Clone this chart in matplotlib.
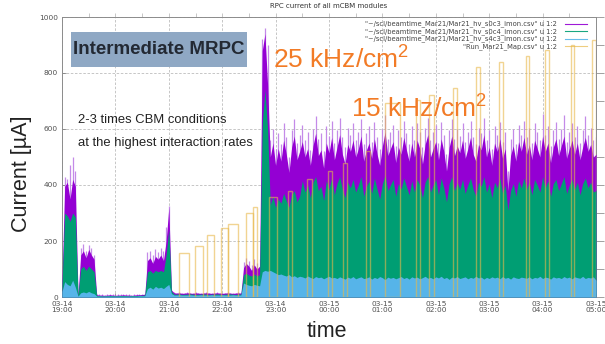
import numpy as np
import matplotlib
matplotlib.use("Agg")
import matplotlib.pyplot as plt
from matplotlib.patches import Rectangle
from matplotlib.lines import Line2D

W, H, DPI = 605, 344, 100

plt.rcParams["mathtext.fontset"] = "custom"
plt.rcParams["mathtext.rm"] = "Liberation Sans"

# ---------------------------------------------------------------------------
# HV monitor currents [uA], one sample every 3 minutes from 03-14 19:00
# ---------------------------------------------------------------------------
step_min = 3

s0c3_imon = [
    60,
    395, 410, 350, 420, 395,
    8,
    150, 165, 140, 170, 150, 135,
    8, 7, 7, 6, 7, 8, 7, 6, 7, 7, 8, 7, 7, 6, 7, 8, 8, 9, 10,
    130, 140, 120, 145, 135, 150, 130, 200, 320,
    25,
    15, 14, 15, 13, 14, 15, 14, 13, 15, 14, 13, 14, 15, 14, 13, 14, 15, 14, 13, 14, 15, 14, 13, 14, 15, 14,
    105, 120, 110, 95, 115, 100, 110,
    880, 940, 760,
    500, 550, 470, 530, 485, 560, 510, 445, 535, 575, 490, 520,
    555, 500, 530, 470, 540, 585, 505, 525, 460, 550, 515, 570,
    490, 535, 580, 510, 475, 545, 520, 560, 500, 530, 575, 485,
    525, 550, 495, 565, 510, 470, 540, 590, 505, 530, 555, 480,
    535, 510, 570, 525, 485, 550, 500, 560, 530, 475, 545, 580,
    500, 530, 555, 490, 565, 520, 450, 535, 575, 505, 540, 515,
    560, 495, 530, 570, 510, 485, 545, 525, 580, 500, 535, 470,
    550, 520, 565, 495, 530, 380, 505, 540, 485, 555, 520, 570,
    510, 545, 490, 560, 530, 500, 575, 520, 550, 480, 535, 565,
    505, 540, 575, 495, 530, 560, 510, 550, 490, 535, 570, 520,
    545, 500, 510,
]

# short excursions of s0c3 within each sampling interval
s0c3_imon_max = [
    70,
    430, 420, 470, 500, 450,
    10,
    175, 190, 165, 185, 175, 150,
    10, 9, 9, 8, 9, 10, 9, 8, 9, 9, 10, 9, 9, 8, 9, 10, 10, 11, 12,
    160, 165, 150, 170, 160, 175, 165, 250, 325,
    30,
    17, 16, 17, 15, 16, 17, 16, 15, 17, 16, 15, 16, 17, 16, 15, 16, 17, 16, 15, 16, 17, 16, 15, 16, 17, 16,
    125, 140, 130, 115, 135, 120, 135,
    920, 960, 900,
    560, 600, 530, 585, 545, 620, 570, 500, 595, 635, 550, 580,
    615, 560, 590, 525, 600, 645, 565, 585, 520, 610, 575, 630,
    550, 595, 640, 570, 535, 605, 580, 620, 560, 590, 635, 545,
    585, 610, 555, 625, 570, 530, 600, 650, 565, 590, 615, 540,
    595, 570, 630, 585, 545, 610, 560, 620, 590, 535, 605, 640,
    560, 590, 615, 550, 625, 580, 510, 595, 635, 565, 600, 575,
    620, 555, 590, 630, 570, 545, 605, 585, 640, 560, 595, 530,
    610, 580, 625, 555, 590, 450, 565, 600, 545, 615, 580, 630,
    570, 605, 550, 620, 590, 560, 655, 580, 610, 540, 595, 625,
    565, 600, 650, 555, 590, 620, 570, 610, 550, 595, 645, 580,
    605, 560, 570,
]

s0c4_imon = [
    40,
    300, 290, 270, 300, 285,
    5,
    100, 110, 95, 110, 100, 90,
    5, 5, 4, 4, 5, 5, 5, 4, 5, 5, 5, 5, 4, 5, 5, 5, 6, 6, 7,
    90, 95, 85, 95, 90, 95, 90, 150, 240,
    20,
    10, 10, 11, 9, 10, 10, 11, 10, 9, 10, 10, 11, 10, 9, 10, 10, 11, 10, 9, 10, 10, 11, 10, 9, 10, 10,
    80, 85, 78, 75, 82, 75, 80,
    620, 740, 600,
    330, 360, 320, 350, 335, 370, 345, 320, 365, 380, 340, 360,
    415, 375, 400, 355, 410, 430, 380, 395, 345, 415, 385, 425,
    365, 405, 430, 385, 355, 410, 390, 420, 375, 400, 430, 360,
    395, 415, 370, 425, 385, 350, 405, 435, 380, 400, 420, 360,
    405, 385, 425, 395, 365, 415, 375, 420, 400, 355, 410, 430,
    375, 400, 420, 365, 425, 390, 340, 405, 430, 380, 410, 385,
    420, 370, 400, 425, 385, 360, 410, 395, 430, 375, 405, 355,
    410, 390, 425, 370, 400, 310, 380, 405, 360, 415, 390, 425,
    385, 410, 365, 420, 400, 375, 430, 390, 415, 360, 405, 420,
    380, 405, 430, 370, 400, 420, 385, 410, 365, 405, 425, 390,
    410, 375, 380,
]

s4c3_imon = [
    20,
    55, 45, 40, 60, 35,
    3,
    15, 18, 15, 20, 15, 12,
    3, 3, 3, 3, 3, 3, 3, 3, 3, 3, 3, 3, 3, 3, 3, 3, 4, 4, 4,
    30, 35, 28, 38, 32, 35, 30, 38, 45,
    12,
    7, 7, 8, 7, 7, 7, 8, 7, 7, 7, 8, 7, 7, 7, 8, 7, 7, 7, 8, 7, 7, 7, 8, 7, 7, 7,
    50, 45, 42, 40, 45, 42, 40,
    90, 95, 92,
    95, 90, 85, 80, 82, 78, 75, 80, 72, 76, 70, 74,
    72, 68, 75, 70, 66, 73, 69, 71, 65, 70, 74, 68,
    70, 66, 72, 68, 64, 71, 67, 73, 65, 69, 72, 66,
    68, 72, 64, 70, 66, 73, 69, 62, 71, 67, 70, 65,
    69, 73, 66, 70, 64, 72, 68, 71, 65, 69, 74, 67,
    70, 65, 72, 68, 74, 66, 70, 63, 71, 68, 73, 66,
    69, 72, 65, 70, 67, 74, 68, 71, 64, 70, 66, 72,
    68, 71, 65, 73, 67, 70, 64, 72, 68, 66, 71, 69,
    67, 72, 65, 70, 68, 74, 66, 71, 69, 64, 72, 68,
    70, 66, 73, 68, 71, 65, 72, 69, 67, 74, 66, 70,
    68, 72, 60,
]

# run map: start / stop [min after 19:00] and run index (drawn on the current scale)
run_start = [131, 149, 163, 179, 187, 207, 215, 233, 254, 275, 299, 316,
             342, 363, 398, 412, 439, 465, 491, 521, 543, 572, 595]
run_stop = [143, 158, 171, 187, 198, 215, 219, 242, 258, 281, 303, 320,
            346, 380, 402, 418, 444, 470, 495, 525, 547, 575, 600]
run_value = [157, 182, 221, 246, 261, 300, 321, 357, 380, 420, 450, 480,
             520, 693, 705, 721, 746, 821, 839, 861, 882, 900, 918]

tick_minutes = [0, 60, 120, 180, 240, 300, 360, 420, 480, 540, 600]
tick_labels = ["03-14\n19:00", "03-14\n20:00", "03-14\n21:00", "03-14\n22:00",
               "03-14\n23:00", "03-15\n00:00", "03-15\n01:00", "03-15\n02:00",
               "03-15\n03:00", "03-15\n04:00", "03-15\n05:00"]

legend_labels = ['"~/scl/beamtime_Mar21/Mar21_hv_s0c3_imon.csv" u 1:2',
                 '"~/scl/beamtime_Mar21/Mar21_hv_s0c4_imon.csv" u 1:2',
                 '"~/scl/beamtime_Mar21/Mar21_hv_s4c3_imon.csv" u 1:2',
                 '"Run_Mar21_Map.csv" u 1:2']

C_PURPLE = "#9400d3"
C_PURPLE_LIGHT = "#c48ae8"
C_GREEN = "#009e73"
C_BLUE = "#56b4e9"
C_RUN = "#e8b84a"

t = np.arange(len(s0c3_imon)) * step_min

fig = plt.figure(figsize=(W / DPI, H / DPI), dpi=DPI)
fig.patch.set_facecolor("white")


def fx(px):
    return px / W


def fy(py):
    return 1 - py / H


ax = fig.add_axes([fx(62), fy(297), (596 - 62) / W, (297 - 17) / H])
ax.set_xlim(0, 600)
ax.set_ylim(0, 1000)

ax.set_axisbelow(True)
ax.grid(True, color="#bdbdbd", lw=0.6, ls=(0, (3, 2)))

ax.vlines(t, 0, s0c3_imon_max, colors=C_PURPLE_LIGHT, lw=0.9, zorder=2)
ax.fill_between(t, 0, s0c3_imon, color=C_PURPLE, lw=0, zorder=3)
ax.fill_between(t, 0, s0c4_imon, color=C_GREEN, lw=0, zorder=4)
ax.fill_between(t, 0, s4c3_imon, color=C_BLUE, lw=0, zorder=5)

widths = [b - a for a, b in zip(run_start, run_stop)]
ax.bar(run_start, run_value, width=widths, align="edge", fill=False,
       edgecolor=C_RUN, lw=1.0, alpha=0.6, zorder=6)

ax.set_xticks(tick_minutes)
ax.set_xticklabels(tick_labels, linespacing=1.05)
ax.set_yticks([0, 200, 400, 600, 800, 1000])
ax.tick_params(direction="in", length=3, width=0.5, colors="#707070",
               labelsize=5.3, labelcolor="#505050", pad=3)
for sp in ax.spines.values():
    sp.set_color("#8c8c8c")
    sp.set_linewidth(0.7)

top = ax.secondary_xaxis("top")
top.set_xticks(list(range(30, 600, 30)))
top.tick_params(direction="out", length=3, width=0.5, colors="#b0b0b0",
                labeltop=False)
top.spines["top"].set_visible(False)

right = ax.secondary_yaxis("right")
right.set_yticks(list(range(0, 1001, 100)))
right.tick_params(direction="out", length=6, width=0.6, colors="#909090",
                  labelright=False)
right.spines["right"].set_visible(False)

fig.text(fx(329), fy(6), "RPC current of all mCBM modules", ha="center",
         va="center", fontsize=5, color="#333333")

legend_colors = [C_PURPLE, C_GREEN, C_BLUE, C_RUN]
for k, (lab, col) in enumerate(zip(legend_labels, legend_colors)):
    yy = 24 + 7.4 * k
    fig.text(fx(557), fy(yy), lab, ha="right", va="center", fontsize=4.9,
             color="#444444")
    fig.add_artist(Line2D([fx(565), fx(587)], [fy(yy), fy(yy)], color=col,
                          lw=0.8, alpha=0.7 if k == 3 else 0.9))

# annotations
fig.add_artist(Rectangle((fx(71), fy(67)), (247 - 71) / W, 35 / H,
                         facecolor="#8fa8c4", edgecolor="none", zorder=10))
fig.text(fx(159), fy(50), "Intermediate MRPC", ha="center", va="center",
         fontsize=13.5, fontweight="bold", family="Liberation Sans",
         color="#232933", zorder=11)

orange = "#f27b26"
fig.text(fx(273), fy(68), r"25 kHz/cm$^{\mathrm{2}}$", ha="left",
         va="baseline", fontsize=19, family="Liberation Sans", color=orange,
         zorder=11)
fig.text(fx(351), fy(117), r"15 kHz/cm$^{\mathrm{2}}$", ha="left",
         va="baseline", fontsize=19, family="Liberation Sans", color=orange,
         zorder=11)

fig.text(fx(78), fy(123), "2-3 times CBM conditions", ha="left",
         va="baseline", fontsize=9.4, family="Liberation Sans", color="#222222",
         zorder=11)
fig.text(fx(78), fy(146), "at the highest interaction rates", ha="left",
         va="baseline", fontsize=9.4, family="Liberation Sans", color="#222222",
         zorder=11)

fig.text(fx(22), fy(174), "Current [µA]", rotation=90, ha="center",
         va="center", fontsize=15.5, family="Liberation Sans", color="#222222")
fig.text(fx(327), fy(337), "time", ha="center", va="baseline", fontsize=15.5,
         family="Liberation Sans", color="#222222")

fig.savefig("out.png", dpi=DPI, facecolor="white")
